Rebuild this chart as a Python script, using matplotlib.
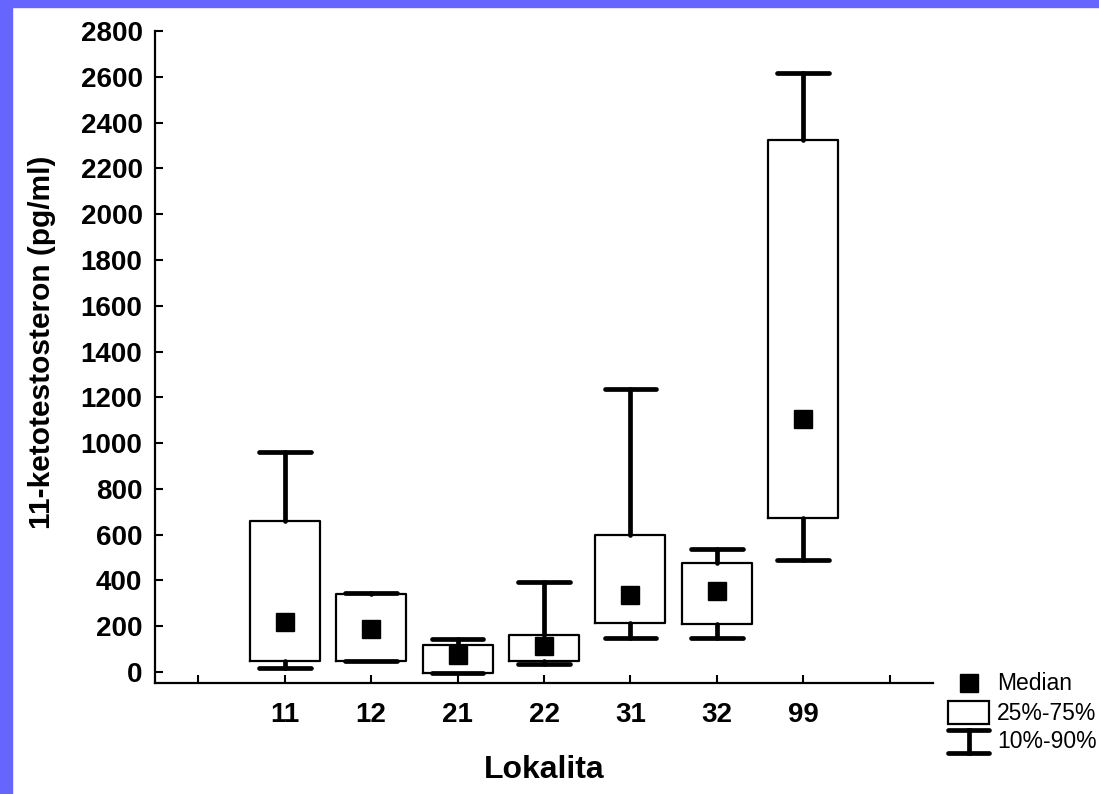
import numpy as np
import matplotlib
matplotlib.use('Agg')
from matplotlib import pyplot as plt
from matplotlib.patches import Rectangle
from matplotlib.lines import Line2D

plt.rcParams['font.family'] = ['Liberation Sans', 'DejaVu Sans']

# data
sites = ['11', '12', '21', '22', '31', '32', '99']
medians = [218, 189, 74, 115, 335, 354, 1104]
q25 = [49, 48, -3, 49, 213, 208, 673]
q75 = [660, 342, 117, 160, 597, 475, 2325]
p10 = [17, 48, -3, 35, 150, 149, 488]
p90 = [961, 345, 144, 393, 1235, 536, 2618]
yticks = np.arange(0, 2801, 200)

W, H = 1099, 794
fig = plt.figure(figsize=(W / 100, H / 100), dpi=100)
ax = fig.add_axes([155 / W, 1 - 683 / H, (933 - 155) / W, (683 - 31) / H])

pos = np.arange(1, len(sites) + 1)
stats = []
for i, s in enumerate(sites):
    stats.append(dict(med=medians[i], q1=q25[i], q3=q75[i],
                      whislo=p10[i], whishi=p90[i], fliers=[], label=s))

ax.bxp(stats, positions=pos, widths=0.81, showfliers=False,
       boxprops=dict(color='black', linewidth=1.6),
       whiskerprops=dict(color='black', linewidth=3.4, solid_capstyle='round'),
       capprops=dict(color='black', linewidth=3.4, solid_capstyle='round'),
       medianprops=dict(linewidth=0),
       capwidths=0.6, zorder=2)
ax.plot(pos, medians, 's', color='black', markersize=13.5, zorder=3)

ax.set_xlim(-0.5, 8.5)
ax.set_ylim(-48, 2800)
ax.set_xticks(np.arange(0, 9))
ax.set_xticklabels([''] + sites + [''], fontsize=20, fontweight='bold')
ax.set_yticks(yticks)
ax.set_yticklabels([str(v) for v in yticks], fontsize=20, fontweight='bold')
ax.tick_params(direction='in', length=6, width=1.5, pad=9)
ax.tick_params(axis='x', pad=14)
for sp in ['top', 'right']:
    ax.spines[sp].set_visible(False)
for sp in ['left', 'bottom']:
    ax.spines[sp].set_linewidth(1.6)
ax.spines['left'].set_bounds(-48, 2800)

ax.set_xlabel('Lokalita', fontsize=23, fontweight='bold', labelpad=19)
ax.set_ylabel('11-ketotestosteron (pg/ml)', fontsize=21.5, fontweight='bold')
ax.yaxis.set_label_coords(-0.127, 0.523)

# legend drawn in figure pixels
def fx(x):
    return x / W

def fy(y):
    return 1 - y / H

fig.add_artist(Line2D([fx(969)], [fy(683)], marker='s', markersize=13.5,
                      color='black', linestyle='none', transform=fig.transFigure))
fig.add_artist(Rectangle((fx(948), fy(724)), fx(989) - fx(948), fy(701) - fy(724),
                         facecolor='white', edgecolor='black', linewidth=1.6,
                         transform=fig.transFigure))
for yy in [730, 753]:
    fig.add_artist(Line2D([fx(948), fx(989)], [fy(yy), fy(yy)], color='black',
                          linewidth=3.4, solid_capstyle='round', transform=fig.transFigure))
fig.add_artist(Line2D([fx(969), fx(969)], [fy(730), fy(753)], color='black',
                      linewidth=3.4, transform=fig.transFigure))
for txt, yy in [('Median', 684), ('25%-75%', 713), ('10%-90%', 742)]:
    fig.text(fx(997), fy(yy), txt, fontsize=16.5, va='center', ha='left')

# purple frame at left and top
fig.add_artist(Rectangle((0, 0), 12 / W, 1, color='#6666ff', transform=fig.transFigure))
fig.add_artist(Rectangle((0, 1 - 7 / H), 1, 7 / H, color='#6666ff', transform=fig.transFigure))

plt.savefig('out.png', dpi=100)
